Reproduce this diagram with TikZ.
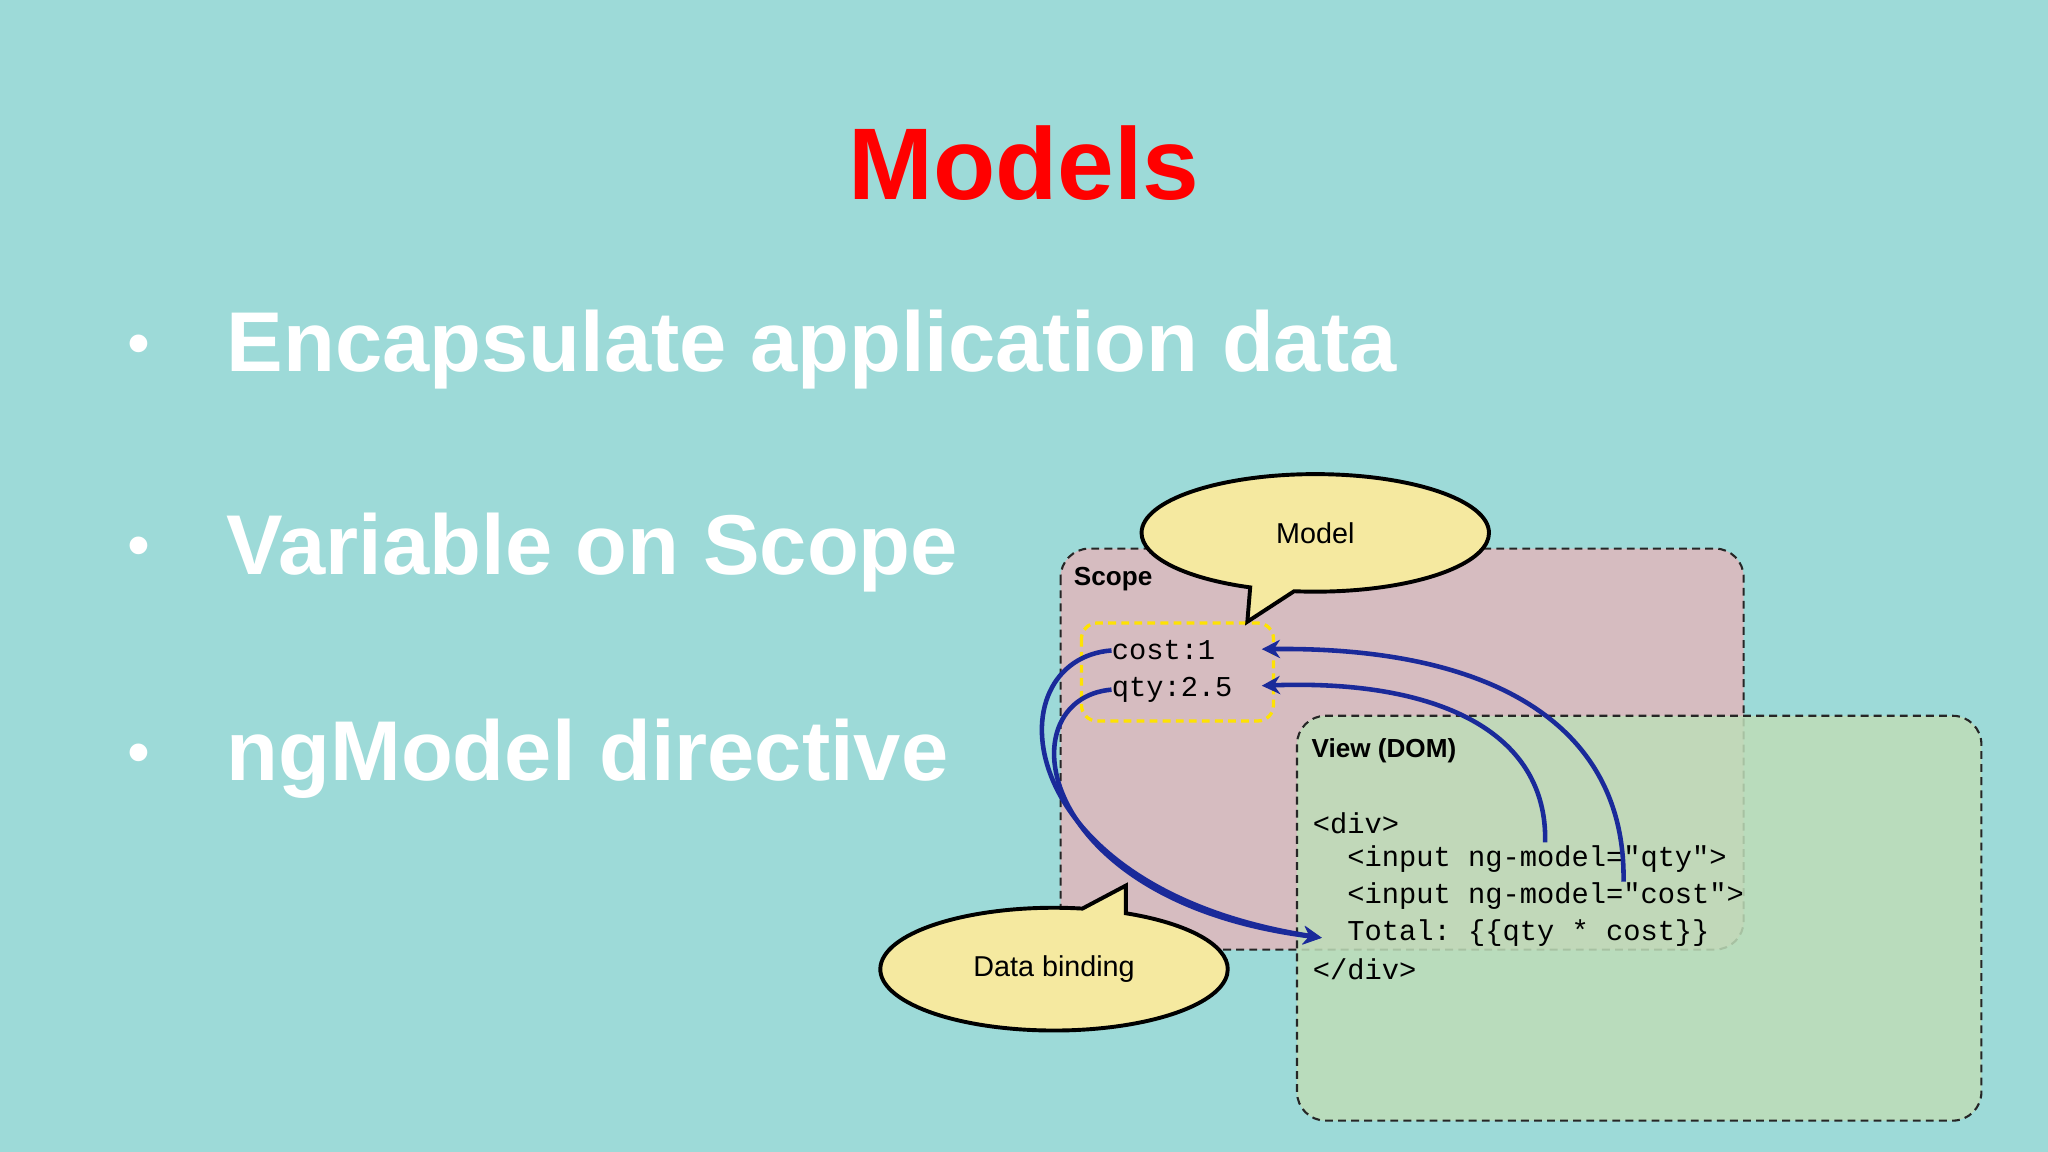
\documentclass[tikz,border=0pt]{standalone}
\usepackage{fontspec}
\setmainfont{Liberation Sans}
\setmonofont{Liberation Mono}
\usetikzlibrary{shapes.callouts,arrows.meta}
\definecolor{bg}{HTML}{9DDAD8}
\definecolor{scopefill}{HTML}{D6BCC0}
\definecolor{viewfill}{HTML}{BEDDB8}
\definecolor{bub}{HTML}{F5E9A0}
\definecolor{arr}{HTML}{1A2A9A}
\tikzset{
 bullet/.style={anchor=west,text=white,font=\fontsize{65}{70}\selectfont\bfseries},
 box/.style={draw=black!85,dash pattern=on 6pt off 4pt,line width=1.6pt,rounded corners=22pt},
 code/.style={anchor=west,font=\fontsize{22}{24}\ttfamily,inner sep=0pt},
 lab/.style={anchor=west,font=\fontsize{20}{22}\selectfont\bfseries,inner sep=0pt},
 bubble/.style={ellipse callout,draw=black,line width=3pt,fill=bub,font=\fontsize{22}{26}\selectfont},
 link/.style={draw=arr,line width=3.5pt,-{Stealth[length=14pt,width=14pt]}}
}
\begin{document}
\begin{tikzpicture}[x=1pt,y=-1pt]
\fill[bg] (0,0) rectangle (1568,882);
\useasboundingbox (0,0) rectangle (1568,882);
\node[text=red,font=\fontsize{78}{80}\selectfont\bfseries] (title) at (784,125) {Models};
\foreach \y/\t [count=\i] in {268/Encapsulate application data,423/Variable on Scope,581/ngModel directive}{
 \node[text=white,font=\fontsize{50}{50}\selectfont] (d\i) at (106,\y) {•};
 \node[bullet] (b\i) at (170,\y) {\t};
}
% scope
\draw[box,fill=scopefill] (812,420) rectangle (1335,727);
\node[lab] (scopel) at (822,443) {Scope};
\draw[dash pattern=on 6pt off 4pt,draw=yellow!85!orange,line width=2.5pt,rounded corners=12pt,fill=scopefill] (828,477) rectangle (975,552);
\node[code] (cost) at (851,498) {cost:1};
\node[code] (qty) at (851,528) {qty:2.5};
% view
\draw[box,fill=viewfill,fill opacity=0.85] (993,548) rectangle (1517,858);
\node[lab] (viewl) at (1004,575) {View (DOM)};
\node[code] (c1) at (1005,630) {<div>};
\node[code] (c2) at (1005,658) {\ \ <input ng-model="qty">};
\node[code] (c3) at (1005,686) {\ \ <input ng-model="cost">};
\node[code] (c4) at (1005,714) {\ \ Total: \{\{qty * cost\}\}};
\node[code] (c5) at (1005,742) {</div>};
% arrows
\coordinate (q0) at (1183,645);
\coordinate (k0) at (1243,675);
\coordinate (tgt) at (1012,718);
\draw[link] (q0) .. controls (1185,560) and (1100,520) .. (966,525);
\draw[link] (k0) .. controls (1245,560) and (1150,495) .. (966,497);
\draw[link] (cost.west) .. controls (760,505) and (770,680) .. (tgt);
\draw[link] (qty.west) .. controls (770,535) and (790,690) .. (tgt);
% callouts
\node[bubble,minimum width=266pt,minimum height=90pt,callout absolute pointer={(955,476)}] (model) at (1007,408) {Model};
\node[bubble,minimum width=266pt,minimum height=94pt,callout absolute pointer={(862,678)}] (db) at (807,742) {Data binding};
\end{tikzpicture}
\end{document}
